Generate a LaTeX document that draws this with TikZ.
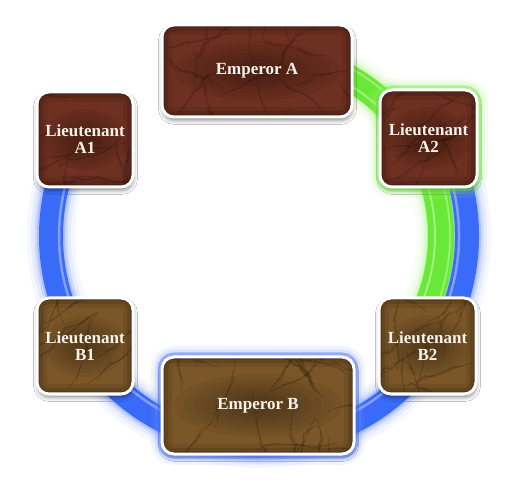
\documentclass[tikz,border=0pt]{standalone}
\usepackage{fontspec}
\setmainfont{Liberation Serif}
\usetikzlibrary{shadows.blur,calc}
\definecolor{afill}{RGB}{110,48,33}
\definecolor{bfill}{RGB}{122,86,40}
\definecolor{ringblue}{RGB}{58,106,248}
\definecolor{ringgreen}{RGB}{106,232,56}
\definecolor{blueglow}{RGB}{125,155,255}
\definecolor{greenglow}{RGB}{160,242,120}
\definecolor{crackcol}{RGB}{28,14,6}
\definecolor{paneltext}{RGB}{248,243,234}
\newcommand\paneltexture{%
  \foreach \s in {1,0.88,0.76,0.64,0.52,0.4,0.28}{%
    \fill[black, opacity=0.045] (path picture bounding box.center) ellipse [x radius={\s*0.44*\pw}, y radius={\s*0.32*\ph}];
  }%
  \pgfmathtruncatemacro\ncr{(\pw/30)*(\ph/28)}%
  \foreach \i in {1,...,\ncr}{%
    \pgfmathsetmacro\crx{(rnd-0.5)*\pw}%
    \pgfmathsetmacro\cry{(rnd-0.5)*\ph}%
    \pgfmathsetmacro\crd{rnd*360}%
    \draw[crackline] ($(path picture bounding box.center)+(\crx,\cry)$)
      -- ++({\crd+50*rnd-25}:{5+8*rnd}) -- ++({\crd+50*rnd-25}:{5+8*rnd})
      -- ++({\crd+50*rnd-25}:{5+8*rnd}) -- ++({\crd+50*rnd-25}:{5+8*rnd})
      -- ++({\crd+50*rnd-25}:{5+8*rnd}) -- ++({\crd+50*rnd-25}:{5+8*rnd})
      -- ++({\crd+50*rnd-25}:{5+8*rnd}) -- ++({\crd+50*rnd-25}:{5+8*rnd});
  }%
  \foreach \lw/\op in {20/0.07,12/0.12,5/0.22}{%
    \draw[black, line width=\lw pt, opacity=\op, rounded corners=12pt]
      (path picture bounding box.south west) rectangle (path picture bounding box.north east);
  }%
}
\tikzset{
  crackline/.style={draw=crackcol, line width=0.5pt, opacity=0.28, line join=round, line cap=round},
  panel/.style={draw=white, line width=3pt, rounded corners=12pt, inner sep=0pt,
    minimum width=\pw pt, minimum height=\ph pt,
    align=center, text=paneltext, font=\fontsize{17}{17}\selectfont\bfseries,
    blur shadow={shadow xshift=0.5pt, shadow yshift=-3.5pt, shadow blur radius=4pt, shadow opacity=45},
    path picture={\paneltexture}},
  apanel/.style={panel, fill=afill},
  bpanel/.style={panel, fill=bfill},
  greenhalo/.style={preaction={draw=greenglow, line width=22pt, draw opacity=0.1},
    preaction={draw=greenglow, line width=15pt, draw opacity=0.18},
    preaction={draw=ringgreen, line width=9pt, draw opacity=0.45}},
  bluehalo/.style={preaction={draw=blueglow, line width=22pt, draw opacity=0.1},
    preaction={draw=blueglow, line width=15pt, draw opacity=0.18},
    preaction={draw=ringblue, line width=9pt, draw opacity=0.45}},
}
\begin{document}
\begin{tikzpicture}[x=1pt,y=-1pt]
\useasboundingbox[fill=white] (0,0) rectangle (520,489);
\coordinate (ringc) at (259,236);
% glows of the rings
\foreach \w/\o in {48/0.07,40/0.12,33/0.22,28/0.4}{
  \draw[blueglow, line width=\w pt, opacity=\o] (ringc) ++(-30:208) arc[start angle=-30, end angle=210, radius=208];
  \draw[greenglow, line width=\w pt, opacity=\o] (ringc) ++(-95:182) arc[start angle=-95, end angle=34, radius=182];
}
% blue ring
\draw[ringblue, line width=24pt] (ringc) ++(-30:208) arc[start angle=-30, end angle=210, radius=208];
\draw[blueglow!60!white, line width=2.5pt, opacity=0.6] (ringc) ++(-30:200) arc[start angle=-30, end angle=210, radius=200];
% green ring
\draw[ringgreen, line width=26pt] (ringc) ++(-95:182) arc[start angle=-95, end angle=34, radius=182];
\draw[greenglow!60!white, line width=2pt, opacity=0.6] (ringc) ++(-95:176) arc[start angle=-95, end angle=34, radius=176];
\draw[greenglow!60!white, line width=2pt, opacity=0.5] (ringc) ++(-95:191) arc[start angle=-95, end angle=34, radius=191];
% panels
\pgfmathsetseed{11}
\def\pw{190}\def\ph{92}
\node[apanel] (empA) at (257,71) {Emperor A};
\def\pw{96}\def\ph{95}
\node[apanel] (ltA1) at (85,139.5) {Lieutenant\\A1};
\def\pw{97}\def\ph{97}
\node[apanel, greenhalo] (ltA2) at (428.5,138.5) {Lieutenant\\A2};
\def\pw{96}\def\ph{96}
\node[bpanel] (ltB1) at (85,346) {Lieutenant\\B1};
\def\pw{192}\def\ph{97}
\node[bpanel, bluehalo] (empB) at (258,405.5) {Emperor B};
\def\pw{97}\def\ph{96}
\node[bpanel] (ltB2) at (427.5,346) {Lieutenant\\B2};
\end{tikzpicture}
\end{document}
